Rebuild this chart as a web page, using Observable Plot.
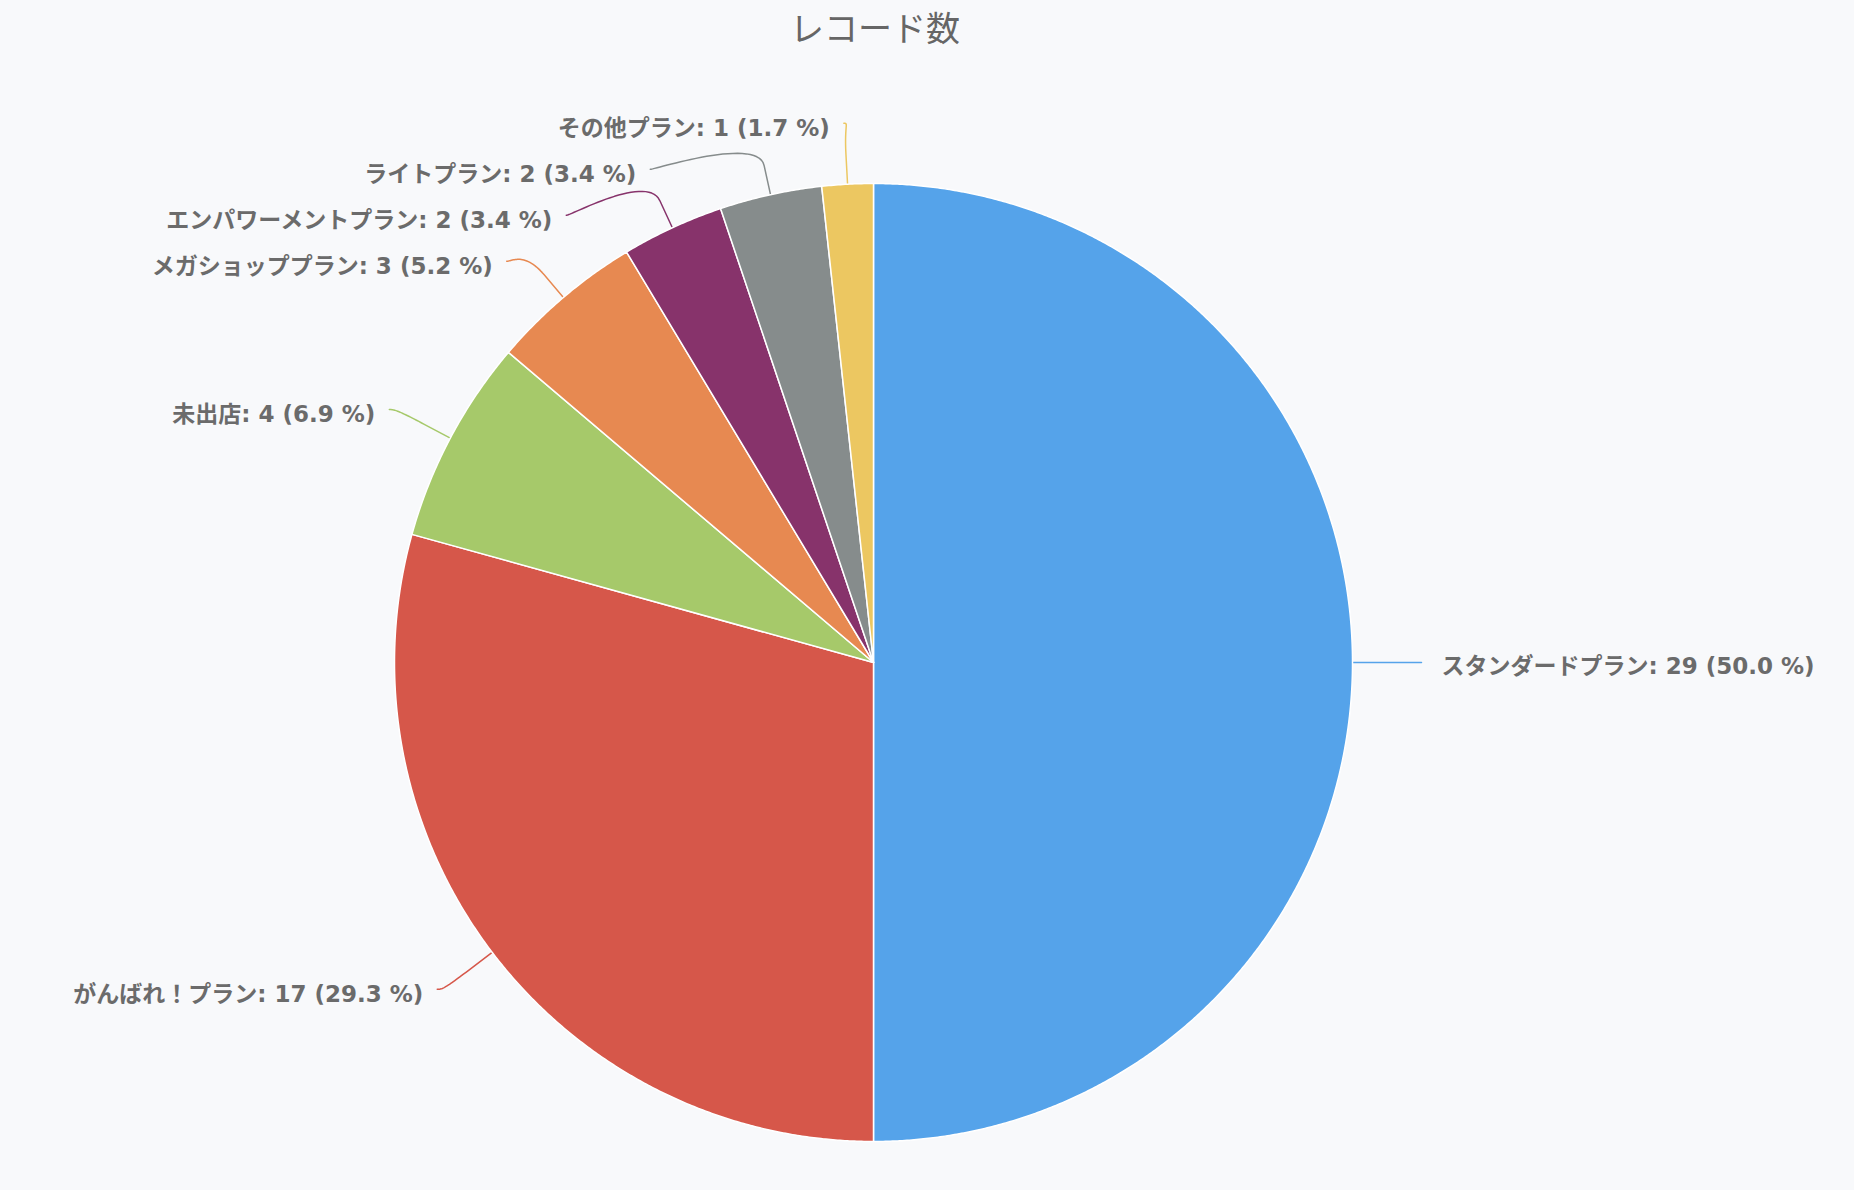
<!DOCTYPE html>
<html><head><meta charset="utf-8">
<script src="https://cdn.jsdelivr.net/npm/d3@7"></script>
<script src="https://cdn.jsdelivr.net/npm/@observablehq/plot@0.6"></script>
<style>
html,body{margin:0;padding:0;background:#f8f9fb;}
#title{width:1750px;height:52px;line-height:54px;text-align:center;font-family:"Noto Sans CJK JP","Noto Sans",sans-serif;font-size:34px;color:#666;}
#chart svg{display:block;}
</style></head><body>
<div id="title">レコード数</div>
<div id="chart"></div>
<script>
// ---- data ----
const categories = ["スタンダードプラン","がんばれ！プラン","未出店","メガショッププラン","エンパワーメントプラン","ライトプラン","その他プラン"];
const counts = [29, 17, 4, 3, 2, 2, 1];
const colors = ["#55a3ea","#d6574a","#a6c96a","#e78951","#87336b","#868c8c","#ecc761"];

// ---- layout ----
const W = 1854, H = 1138;
const cx = 873, cy = 610;           // pie centre in svg pixels
const r = 479;                       // pie radius
const labelRx = 548, labelRy = 540;  // where connectors start
const breakOff = 30;                 // connector break offset from the rim
const spacing = 46;                  // min vertical spacing between labels
const total = d3.sum(counts);

const arcs = d3.pie().sort(null).value(d => d)(counts);
const pt = (a, R) => ({x: R * Math.sin(a), y: -R * Math.cos(a)});

// slice polygons
const sliceRows = [];
arcs.forEach((a, i) => {
  const name = categories[i];
  sliceRows.push({name, x: 0, y: 0});
  const n = Math.max(2, Math.ceil((a.endAngle - a.startAngle) / 0.005));
  for (let k = 0; k <= n; k++) {
    const t = a.startAngle + (a.endAngle - a.startAngle) * k / n;
    const p = pt(t, r);
    sliceRows.push({name, x: p.x, y: p.y});
  }
});

// labels
const labels = arcs.map((a, i) => {
  const m = (a.startAngle + a.endAngle) / 2;
  return {
    name: categories[i],
    text: `${categories[i]}: ${counts[i]} (${(counts[i] / total * 100).toFixed(1)} %)`,
    m, x: labelRx * Math.sin(m), y: -labelRy * Math.cos(m),
    side: Math.sin(m) >= 0 ? "right" : "left"
  };
});
for (const side of ["left", "right"]) {
  const group = labels.filter(l => l.side === side).sort((a, b) => a.y - b.y);
  let prev = -Infinity;
  for (const l of group) {
    if (l.y < prev + spacing) {
      l.y = prev + spacing;
      const f = Math.sqrt(Math.max(0, 1 - (l.y / labelRy) ** 2));
      l.x = (side === "left" ? -1 : 1) * labelRx * f;
    }
    prev = l.y;
  }
}

// connectors (soft cubic curve then straight segment to rim)
const connRows = [];
labels.forEach(l => {
  const touch = pt(l.m, r);
  const brk = pt(l.m, r + breakOff);
  const p0 = {x: l.x, y: l.y};
  const c1 = {x: l.x + (l.side === "left" ? 5 : -5), y: l.y};
  const c2 = {x: 2 * brk.x - touch.x, y: 2 * brk.y - touch.y};
  const N = 30;
  for (let k = 0; k <= N; k++) {
    const t = k / N, u = 1 - t;
    connRows.push({
      name: l.name,
      x: u*u*u*p0.x + 3*u*u*t*c1.x + 3*u*t*t*c2.x + t*t*t*brk.x,
      y: u*u*u*p0.y + 3*u*u*t*c1.y + 3*u*t*t*c2.y + t*t*t*brk.y
    });
  }
  connRows.push({name: l.name, x: touch.x, y: touch.y});
});

const font = '"DejaVu Sans","Noto Sans CJK JP",sans-serif';
const chart = Plot.plot({
  width: W, height: H, margin: 0,
  x: {domain: [-cx, W - cx], range: [0, W], axis: null},
  y: {domain: [-cy, H - cy], range: [0, H], axis: null},
  color: {domain: categories, range: colors},
  style: {background: "transparent", fontFamily: font},
  marks: [
    Plot.line(connRows, {x: "x", y: "y", z: "name", stroke: "name", strokeWidth: 1.5, curve: "linear"}),
    Plot.line(sliceRows, {x: "x", y: "y", z: "name", fill: "name", stroke: "white", strokeWidth: 1.5, strokeLinejoin: "round", curve: "linear-closed"}),
    Plot.text(labels.filter(l => l.side === "left"), {x: "x", y: "y", text: "text", textAnchor: "end", dx: -14, dy: 5, fontSize: 23, fontWeight: 600, fill: "#6b6b6b"}),
    Plot.text(labels.filter(l => l.side === "right"), {x: "x", y: "y", text: "text", textAnchor: "start", dx: 20, dy: 4, fontSize: 23, fontWeight: 600, fill: "#6b6b6b"})
  ]
});
document.getElementById("chart").appendChild(chart);
</script>
</body></html>
